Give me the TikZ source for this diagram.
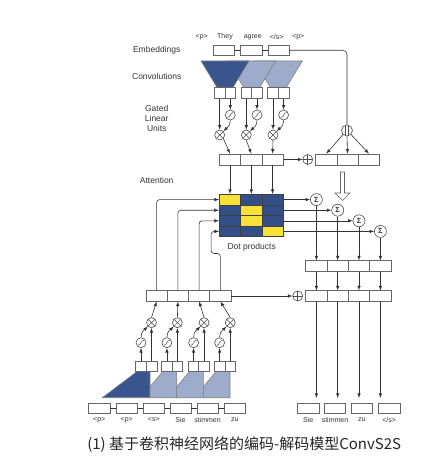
\documentclass[tikz,border=0pt]{standalone}
\usepackage{fontspec}
\setmainfont{Liberation Sans}
\newfontfamily\cjk{Noto Sans CJK SC}
\usetikzlibrary{positioning}
\definecolor{convdark}{RGB}{58,84,142}
\definecolor{convlight}{RGB}{158,172,204}
\definecolor{attyel}{RGB}{248,226,58}
\definecolor{attblue}{RGB}{52,78,136}
\begin{document}
\begin{tikzpicture}[x=1pt,y=-1pt,>=latex,line width=0.6pt,color=black!80,
  cell/.style={draw=black!60,fill=white,rectangle,inner sep=0,minimum width=21.3pt,minimum height=10.5pt},
  half/.style={cell,minimum width=10.65pt,minimum height=11pt},
  att/.style={draw=black!75,fill=attblue,rectangle,inner sep=0,minimum width=21.3pt,minimum height=10.6pt},
  op/.style={circle,draw=black!70,fill=white,inner sep=0,minimum size=10pt},
  sigop/.style={op,path picture={\draw[line width=0.5pt] ([shift={(-3,2.5)}]path picture bounding box.center) .. controls +(3.5,0) and +(-3.5,0) .. ([shift={(3,-2.5)}]path picture bounding box.center);}},
  mulop/.style={op,path picture={\draw[line width=0.5pt] (path picture bounding box.north west) -- (path picture bounding box.south east) (path picture bounding box.north east) -- (path picture bounding box.south west);}},
  plusop/.style={op,path picture={\draw[line width=0.5pt] (path picture bounding box.north) -- (path picture bounding box.south) (path picture bounding box.west) -- (path picture bounding box.east);}},
  splitop/.style={op,minimum size=11pt,path picture={\draw[line width=0.5pt] ([xshift=-1.3pt]path picture bounding box.north) -- ([xshift=-1.3pt]path picture bounding box.south) ([xshift=1.3pt]path picture bounding box.north) -- ([xshift=1.3pt]path picture bounding box.south);}},
  sumop/.style={op,minimum size=12pt,font=\fontsize{7.5}{8}\selectfont\bfseries},
  side/.style={font=\fontsize{8.5}{10}\selectfont,align=center},
  word/.style={font=\fontsize{7}{8}\selectfont,inner sep=0}]
\fill[white] (0,0) rectangle (439,468);
\useasboundingbox (0,0) rectangle (439,468);

% encoder
\node[word] (w1) at (201.7,37) {<p>};
\node[word] (w2) at (225,37) {They};
\node[word] (w3) at (252.7,37) {agree};
\node[word] (w4) at (276.7,37) {</s>};
\node[word] (w5) at (298.3,37) {<p>};

\node[side] (emb) at (156.7,50) {Embeddings};
\node[side] (conv) at (156.7,76.7) {Convolutions};
\node[side] (glu) at (156.7,118.3) {Gated\\Linear\\Units};
\node[side] (attn) at (156.7,180.7) {Attention};

\node[cell] (E1) at (223.7,50.3) {};
\node[cell] (E2) at (251.2,50.3) {};
\node[cell] (E3) at (278.5,50.3) {};
\draw (E1.east) -- (E2.west);
\draw (E2.east) -- (E3.west);

\filldraw[fill=convlight,draw=black!50] (254.3,61) -- (302.3,61) -- (286.3,87.3) -- (270.3,87.3) -- cycle;
\filldraw[fill=convlight,draw=black!50] (227.7,61) -- (275.7,61) -- (259.7,87.3) -- (243.7,87.3) -- cycle;
\filldraw[fill=convdark,draw=black!50] (201,61) -- (249,61) -- (233,87.3) -- (217,87.3) -- cycle;

\node[half] (A1) at (219.7,92.8) {};
\node[half] (B1) at (230.3,92.8) {};
\node[half] (A2) at (246.3,92.8) {};
\node[half] (B2) at (257,92.8) {};
\node[half] (A3) at (273,92.8) {};
\node[half] (B3) at (283.6,92.8) {};

\node[sigop] (S1) at (230.3,115) {};
\node[sigop] (S2) at (257,115) {};
\node[sigop] (S3) at (283.6,115) {};
\node[mulop] (M1) at (219.7,135) {};
\node[mulop] (M2) at (246.3,135) {};
\node[mulop] (M3) at (273,135) {};

\node[cell,minimum height=11pt] (R1) at (230,159.5) {};
\node[cell,minimum height=11pt] (R2) at (251.3,159.5) {};
\node[cell,minimum height=11pt] (R3) at (272.6,159.5) {};
\node[plusop] (P1) at (307.7,159.5) {};
\node[cell,minimum height=11pt] (Q1) at (326.3,159.5) {};
\node[cell,minimum height=11pt] (Q2) at (347.6,159.5) {};
\node[cell,minimum height=11pt] (Q3) at (368.9,159.5) {};
\node[splitop] (J) at (347,130.5) {};

\draw[->] (A1.south) -- (M1.north);
\draw[->] (A2.south) -- (M2.north);
\draw[->] (A3.south) -- (M3.north);
\draw[->] (B1.south) -- (S1.north);
\draw[->] (B2.south) -- (S2.north);
\draw[->] (B3.south) -- (S3.north);
\draw[->] (S1.south) .. controls +(0,6) and +(3,-3) .. (M1.north east);
\draw[->] (S2.south) .. controls +(0,6) and +(3,-3) .. (M2.north east);
\draw[->] (S3.south) .. controls +(0,6) and +(3,-3) .. (M3.north east);
\draw[->] (M1.south east) -- (R1.north);
\draw[->] (M2.south) -- (R2.north);
\draw[->] (M3.south) -- (R3.north);
\draw[->] (R3.east) -- (P1.west);
\draw[rounded corners=4] (E3.east) -| (J.north);
\draw[->] (J.south west) -- (Q1.north);
\draw[->] (J.south) -- (Q2.north);
\draw[->] (J.south east) -- (Q3.north);

\filldraw[fill=white,draw=black!60] (340.5,172) -- (344.5,172) -- (344.5,193) -- (350,193) -- (342.5,200.5) -- (335,193) -- (340.5,193) -- cycle;

% attention
\node[att,fill=attyel] (D11) at (230,199.6) {};
\node[att] (D12) at (251.3,199.6) {};
\node[att] (D13) at (272.6,199.6) {};
\node[att] (D21) at (230,210.2) {};
\node[att,fill=attyel] (D22) at (251.3,210.2) {};
\node[att] (D23) at (272.6,210.2) {};
\node[att] (D31) at (230,220.8) {};
\node[att,fill=attyel] (D32) at (251.3,220.8) {};
\node[att] (D33) at (272.6,220.8) {};
\node[att] (D41) at (230,231.4) {};
\node[att] (D42) at (251.3,231.4) {};
\node[att,fill=attyel] (D43) at (272.6,231.4) {};
\node[side] (dot) at (251.7,247.7) {Dot products};

\draw[->] (R1.south) -- (D11.north);
\draw[->] (R2.south) -- (D12.north);
\draw[->] (R3.south) -- (D13.north);

\node[sumop] (G1) at (316.4,199.6) {Σ};
\node[sumop] (G2) at (337.7,210.2) {Σ};
\node[sumop] (G3) at (359,220.8) {Σ};
\node[sumop] (G4) at (380.4,231.4) {Σ};
\draw[->] (D13.east) -- (G1.west);
\draw[->] (D23.east) -- (G2.west);
\draw[->] (D33.east) -- (G3.west);
\draw[->] (D43.east) -- (G4.west);

\node[cell] (K1) at (316.4,266) {};
\node[cell] (K2) at (337.7,266) {};
\node[cell] (K3) at (359,266) {};
\node[cell] (K4) at (380.4,266) {};
\node[cell] (O1) at (316.4,296) {};
\node[cell] (O2) at (337.7,296) {};
\node[cell] (O3) at (359,296) {};
\node[cell] (O4) at (380.4,296) {};
\node[plusop] (P2) at (297.7,296) {};
\draw[->] (G1.south) -- (K1.north);
\draw[->] (G2.south) -- (K2.north);
\draw[->] (G3.south) -- (K3.north);
\draw[->] (G4.south) -- (K4.north);
\draw[->] (K1.south) -- (O1.north);
\draw[->] (K2.south) -- (O2.north);
\draw[->] (K3.south) -- (O3.north);
\draw[->] (K4.south) -- (O4.north);

% decoder
\node[cell] (L1) at (156.6,296) {};
\node[cell] (L2) at (177.9,296) {};
\node[cell] (L3) at (199.1,296) {};
\node[cell] (L4) at (220.4,296) {};
\draw[->] (L4.east) -- (P2.west);
\draw[->,rounded corners=3] (L1.north) |- (D11.west);
\draw[->,rounded corners=3] (L2.north) |- (D21.west);
\draw[->,rounded corners=3] (L3.north) |- (D31.west);
\draw[->,rounded corners=3] (L4.north) -- ++(0,-37) -- ++(-9.3,0) |- (D41.west);

\filldraw[fill=convdark,draw=black!50] (102.3,397.7) -- (137.7,371) -- (150,371) -- (150,397.7) -- cycle;
\filldraw[fill=convlight,draw=black!50] (150,397.7) -- (150,386.7) -- (163.3,371) -- (176.7,371) -- (176.7,397.7) -- cycle;
\filldraw[fill=convlight,draw=black!50] (176.7,397.7) -- (176.7,386.7) -- (190,371) -- (203.3,371) -- (203.3,397.7) -- cycle;
\filldraw[fill=convlight,draw=black!50] (203.3,397.7) -- (203.3,386.7) -- (216.7,371) -- (230,371) -- (230,397.7) -- cycle;

\node[half,minimum height=10pt] (U1) at (141,366) {};
\node[half,minimum height=10pt] (V1) at (151.5,366) {};
\node[half,minimum height=10pt] (U2) at (166.9,366) {};
\node[half,minimum height=10pt] (V2) at (177.4,366) {};
\node[half,minimum height=10pt] (U3) at (193.6,366) {};
\node[half,minimum height=10pt] (V3) at (204.1,366) {};
\node[half,minimum height=10pt] (U4) at (219.6,366) {};
\node[half,minimum height=10pt] (V4) at (230.2,366) {};

\node[sigop] (Z1) at (141,342.7) {};
\node[sigop] (Z2) at (166.9,342.7) {};
\node[sigop] (Z3) at (193.6,342.7) {};
\node[sigop] (Z4) at (219.6,342.7) {};
\node[mulop] (X1) at (151.5,322.7) {};
\node[mulop] (X2) at (177.4,322.7) {};
\node[mulop] (X3) at (204.1,322.7) {};
\node[mulop] (X4) at (230.2,322.7) {};

\draw[->] (U1.north) -- (Z1.south);
\draw[->] (U2.north) -- (Z2.south);
\draw[->] (U3.north) -- (Z3.south);
\draw[->] (U4.north) -- (Z4.south);
\draw[->] (V1.north) -- (X1.south);
\draw[->] (V2.north) -- (X2.south);
\draw[->] (V3.north) -- (X3.south);
\draw[->] (V4.north) -- (X4.south);
\draw[->] (Z1.north) .. controls +(0,-6) and +(-3,3) .. (X1.south west);
\draw[->] (Z2.north) .. controls +(0,-6) and +(-3,3) .. (X2.south west);
\draw[->] (Z3.north) .. controls +(0,-6) and +(-3,3) .. (X3.south west);
\draw[->] (Z4.north) .. controls +(0,-6) and +(-3,3) .. (X4.south west);
\draw[->] (X1.north) -- (L1.south);
\draw[->] (X2.north) -- (L2.south);
\draw[->] (X3.north) -- (L3.south);
\draw[->] (X4.north) -- (L4.south);

\node[cell,minimum height=10pt] (W1) at (99.2,408.3) {};
\node[cell,minimum height=10pt] (W2) at (126.7,408.3) {};
\node[cell,minimum height=10pt] (W3) at (153.8,408.3) {};
\node[cell,minimum height=10pt] (W4) at (180.5,408.3) {};
\node[cell,minimum height=10pt] (W5) at (207.5,408.3) {};
\node[cell,minimum height=10pt] (W6) at (234.8,408.3) {};
\draw (W1.east) -- (W2.west);
\draw (W2.east) -- (W3.west);
\draw (W3.east) -- (W4.west);
\draw (W4.east) -- (W5.west);
\draw (W5.east) -- (W6.west);
\node[word,below=4pt of W1] (t1) {<p>};
\node[word,below=4pt of W2] (t2) {<p>};
\node[word,below=4pt of W3] (t3) {<s>};
\node[word,below=4pt of W4] (t4) {Sie};
\node[word,below=4pt of W5] (t5) {stimmen};
\node[word,below=4pt of W6] (t6) {zu};

% output
\node[cell,minimum height=10pt] (Y1) at (308.3,408.3) {};
\node[cell,minimum height=10pt] (Y2) at (335,408.3) {};
\node[cell,minimum height=10pt] (Y3) at (361.7,408.3) {};
\node[cell,minimum height=10pt] (Y4) at (389.2,408.3) {};
\node[word,below=4pt of Y1] (y1) {Sie};
\node[word,below=4pt of Y2] (y2) {stimmen};
\node[word,below=4pt of Y3] (y3) {zu};
\node[word,below=4pt of Y4] (y4) {</s>};
\draw[->,shorten >=5pt] (O1.south) -- (O1.south |- Y1.north);
\draw[->,shorten >=5pt] (O2.south) -- (O2.south |- Y2.north);
\draw[->,shorten >=5pt] (O3.south) -- (O3.south |- Y3.north);
\draw[->,shorten >=5pt] (O4.south) -- (O4.south |- Y4.north);

\node[anchor=west,inner sep=0,color=black!85,font=\cjk\fontsize{15}{18}\selectfont] (cap) at (87,445) {(1) 基于卷积神经网络的编码-解码模型ConvS2S};
\end{tikzpicture}
\end{document}
